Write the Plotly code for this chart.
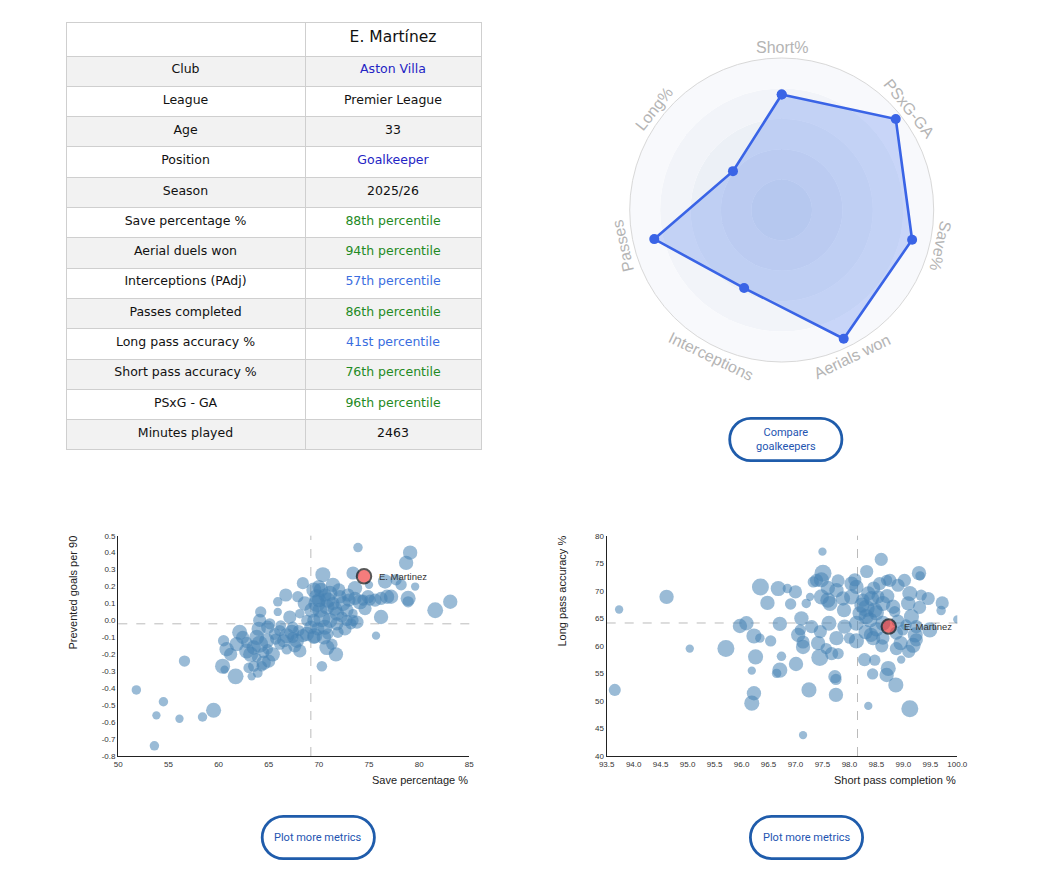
import math
import plotly.graph_objects as go

# ---- player profile ----
player = "E. Martínez"
club = "Aston Villa"
league = "Premier League"
age = 33
position = "Goalkeeper"
season = "2025/26"
minutes_played = 2463

metric_names = ["Save percentage %", "Aerial duels won", "Interceptions (PAdj)",
                "Passes completed", "Long pass accuracy %", "Short pass accuracy %", "PSxG - GA"]
metric_pct = [88, 94, 57, 86, 41, 76, 96]

# radar axes, clockwise from the top
radar_labels = ["Short%", "PSxG-GA", "Save%", "Aerials won", "Interceptions", "Passes", "Long%"]
radar_values = [76, 96, 88, 94, 57, 86, 41]

# ---- scatter 1: save % vs prevented goals per 90 ----
save_pct = [51.8, 54.5, 53.8, 53.6, 56.1, 58.4, 59.5, 56.6, 60.4, 60.6, 61.7, 60.5, 60.8, 62.1, 61.8,
            62.8, 63.0, 63.3, 63.5, 63.9, 64.5, 64.2, 64.1, 63.8, 64.1, 64.8, 64.9, 65.4, 65.6, 65.9,
            65.9, 66.7, 66.1, 66.8, 67.1, 67.3, 66.8, 67.9, 68.4, 67.8, 68.1, 68.8, 69.6, 69.3, 69.5,
            69.8, 70.4, 70.3, 70.8, 70.6, 71.1, 71.4, 70.3, 70.8, 71.3, 71.7, 71.9, 71.8, 72.4, 72.8,
            73.2, 73.4, 73.9, 73.6, 74.1, 74.6, 75.0, 75.7, 75.6, 76.2, 76.2, 76.6, 77.2, 77.7, 78.2,
            78.7, 79.1, 78.9, 78.9, 79.6, 81.6, 83.1, 69.8, 70.1, 69.5, 71.1, 71.4, 72.1, 73.0, 73.6,
            74.4, 75.1, 72.8, 69.5, 68.4, 67.4, 66.1, 65.1, 63.5, 62.8, 64.5, 64.9, 67.4, 68.8, 65.7,
            68.1, 71.8, 72.3, 73.4, 73.4, 63.8, 64.3, 70.0, 70.6, 69.9, 70.9, 68.0, 66.2,
            70.2, 70.9, 71.6, 70.5, 69.2, 72.6, 73.8, 72.0, 64.0, 63.2, 65.0, 66.5, 62.4, 67.6, 68.6,
            70.0, 74.9, 76.8, 72.9, 61.2]
prevented_p90 = [-0.41, -0.48, -0.56, -0.74, -0.58, -0.57, -0.53, -0.24, -0.27, -0.29, -0.33, -0.12, -0.17,
                 -0.07, -0.14, -0.18, -0.28, -0.33, -0.27, -0.31, -0.25, 0.05, 0.00, -0.10, -0.14, -0.12,
                 -0.04, -0.20, -0.08, 0.11, 0.05, 0.15, -0.14, -0.17, 0.02, -0.07, -0.09, 0.14, 0.22,
                 -0.12, -0.18, -0.08, -0.09, 0.06, 0.18, 0.10, 0.27, 0.01, 0.08, -0.04, 0.16, 0.21, -0.27,
                 -0.16, -0.14, -0.20, -0.07, 0.04, 0.10, 0.00, -0.02, 0.28, 0.43, 0.19, 0.11, 0.07, 0.21,
                 -0.09, 0.12, 0.13, 0.02, 0.23, 0.14, 0.24, 0.21, 0.34, 0.40, 0.13, 0.11, 0.20, 0.06, 0.11,
                 0.14, 0.06, 0.00, 0.00, 0.10, 0.14, 0.12, 0.13, 0.12, 0.12, 0.06, -0.10, -0.09, -0.10,
                 -0.06, -0.02, -0.16, -0.13, -0.19, -0.17, -0.04, 0.00, -0.11, 0.04, -0.02, 0.02, 0.04,
                 0.00, -0.22, -0.27, 0.12, 0.15, -0.05, -0.08, -0.06, -0.03,
                 0.18, 0.12, 0.07, -0.10, -0.04, -0.05, -0.01, 0.18, -0.05, -0.20, -0.24, -0.12, -0.10,
                 -0.15, 0.10, 0.20, 0.14, 0.14, 0.15, -0.20]
minutes_1 = [930, 930, 720, 930, 720, 930, 2370, 1330, 2370, 720, 2610, 1330, 2140, 2370, 2140,
             2370, 1160, 720, 1330, 1000, 2140, 1330, 1810, 2370, 3000, 2370, 1810, 2140, 1520, 930,
             720, 1810, 1330, 1160, 1810, 2370, 2370, 1330, 1520, 2140, 1810, 2140, 2370, 2370, 2370,
             3000, 2370, 3000, 2370, 2370, 2370, 2140, 1160, 2370, 1330, 2140, 1330, 2140, 2370, 1330,
             1330, 1810, 930, 2140, 2370, 1810, 720, 720, 1810, 1810, 2140, 2140, 2140, 1330, 1330,
             2140, 2140, 2370, 1330, 720, 2610, 2140, 2370, 2370, 1810, 2370, 1810, 1810, 1810, 1810,
             1330, 1330, 1810, 1810, 1810, 1330, 1330, 1330, 2140, 1330, 1330, 1160, 1330, 1330, 1330,
             930, 1810, 1330, 930, 1330, 930, 1160, 2140, 1810, 1810, 1330, 1330, 1160,
             2140, 2370, 2140, 2140, 1810, 1810, 1810, 1810, 2140, 2370, 1810, 1810, 1810, 1810, 2140,
             1810, 1810, 2140, 1810, 1810]
avg_save_pct = 69.2
avg_prevented = -0.02
player_save_pct = 74.5
player_prevented = 0.26

# ---- scatter 2: short pass completion vs long pass accuracy ----
short_pct = [93.65, 93.73, 94.61, 95.04, 95.71, 95.97, 96.09, 96.19, 96.23, 96.19, 96.26, 96.23, 96.34,
             96.35, 96.48, 96.54, 96.65, 96.71, 96.74, 96.68, 96.71, 96.85, 96.91, 97.01, 97.11, 97.09,
             97.05, 97.14, 97.14, 97.14, 97.20, 97.25, 97.27, 97.33, 97.39, 97.48, 97.51, 97.50, 97.42,
             97.45, 97.46, 97.48, 97.60, 97.64, 97.62, 97.57, 97.67, 97.73, 97.75, 97.75, 97.76, 97.79,
             97.76, 97.79, 97.88, 97.91, 98.00, 98.04, 98.04, 98.13, 98.13, 98.13, 98.23, 98.28, 98.31,
             98.32, 98.35, 98.38, 98.41, 98.44, 98.47, 98.43, 98.47, 98.56, 98.59, 98.62, 98.69, 98.72,
             98.69, 98.75, 98.81, 98.84, 98.86, 98.87, 98.90, 98.96, 99.02, 99.09, 99.12, 99.12, 99.15,
             99.18, 99.22, 99.24, 99.29, 99.31, 99.33, 99.49, 99.46, 99.72, 99.70, 100.0, 99.24, 98.99,
             98.31, 98.19, 98.62, 98.62, 98.53, 98.25, 98.87, 99.05, 98.50, 98.40,
             98.35, 98.50, 98.70, 98.30, 98.90, 98.60, 97.90, 97.30, 99.30, 98.10, 97.60, 98.95, 99.10,
             98.45, 97.00]
long_pct = [52.0, 66.6, 68.9, 59.5, 59.5, 63.6, 64.1, 55.5, 51.4, 49.6, 58.0, 61.8, 61.4, 70.7, 67.8,
            60.9, 55.0, 55.6, 58.1, 70.4, 64.0, 70.4, 67.6, 56.7, 65.0, 62.9, 62.0, 59.8, 60.7, 43.8,
            67.7, 52.0, 68.9, 71.6, 71.9, 72.0, 73.2, 77.1, 60.5, 57.9, 62.6, 68.9, 68.3, 67.7, 64.1,
            59.5, 58.6, 54.4, 53.9, 51.1, 70.1, 71.8, 61.4, 58.6, 68.6, 63.5, 61.4, 71.3, 68.9, 70.7,
            64.1, 60.9, 67.4, 57.5, 66.8, 73.5, 49.1, 64.7, 68.6, 61.4, 57.4, 54.9, 66.5, 71.3, 75.7,
            67.7, 71.9, 55.9, 54.7, 71.9, 67.1, 66.2, 52.9, 59.5, 71.0, 57.5, 71.9, 67.7, 69.5, 48.6,
            65.3, 60.1, 62.0, 63.5, 73.2, 72.7, 69.2, 62.9, 68.6, 67.8, 66.4, 64.8, 61.1, 62.9, 65.3,
            65.9, 64.1, 61.4, 68.9, 68.3, 62.3, 63.8, 63.0, 62.0,
            69.5, 66.0, 69.0, 62.5, 64.5, 60.0, 66.5, 63.5, 67.0, 72.0, 70.5, 60.5, 59.0, 70.5, 69.8]
minutes_2 = [1520, 720, 2140, 720, 3000, 2140, 2140, 720, 2140, 2370, 2370, 2370, 930, 3000, 2140,
             1330, 930, 2370, 930, 2370, 2140, 930, 1330, 2140, 2140, 1330, 2140, 2140, 1810, 720,
             930, 2370, 720, 1330, 1810, 2370, 3000, 720, 2140, 3000, 1810, 2370, 2370, 2370, 2370,
             1330, 1810, 1810, 1330, 2140, 2140, 1810, 2140, 1330, 2140, 2140, 1330, 2140, 2370, 2140,
             2370, 2370, 2370, 1810, 3000, 1810, 720, 2370, 2370, 2140, 1330, 1330, 2370, 1810, 1810,
             2370, 1330, 2370, 2140, 1810, 2140, 1330, 2370, 1810, 1810, 720, 1810, 2140, 2370, 3000,
             2370, 2370, 2370, 1810, 2140, 930, 1330, 2370, 1810, 1810, 930, 720, 1810, 1330, 2370,
             2140, 2370, 1810, 1810, 1810, 1810, 1330, 2140, 2140,
             2140, 2370, 2140, 2140, 1810, 1810, 2140, 1810, 1810, 1810, 2140, 2140, 1810, 1810, 1810]
avg_short = 98.15
avg_long = 64.15
player_short = 98.73
player_long = 63.5

# ---- page geometry helpers (pixels -> paper) ----
W, H, OFF = 1021, 854, 8


def px(x):
    return (x - OFF) / W


def py(y):
    return 1 - (y - OFF) / H


def ordinal(n):
    suf = "th" if 10 <= n % 100 <= 20 else {1: "st", 2: "nd", 3: "rd"}.get(n % 10, "th")
    return f"{n}{suf}"


def pct_color(p):
    if p >= 66:
        return "#1f8a24"
    if p >= 33:
        return "#3a6ee0"
    return "#d33"


def pill(cx, cy, w, h, lw):
    # rounded "pill" outline as a bezier path
    x0, x1 = cx - w / 2 + lw / 2, cx + w / 2 - lw / 2
    y0, y1 = cy - h / 2 + lw / 2, cy + h / 2 - lw / 2
    r = (y1 - y0) / 2
    k = 0.5523 * r
    pts = [("M", [(x0 + r, y0)]), ("L", [(x1 - r, y0)]),
           ("C", [(x1 - r + k, y0), (x1, cy - k), (x1, cy)]),
           ("C", [(x1, cy + k), (x1 - r + k, y1), (x1 - r, y1)]),
           ("L", [(x0 + r, y1)]),
           ("C", [(x0 + r - k, y1), (x0, cy + k), (x0, cy)]),
           ("C", [(x0, cy - k), (x0 + r - k, y0), (x0 + r, y0)])]
    s = ""
    for cmd, p in pts:
        s += cmd + " " + " ".join(f"{px(a):.5f},{py(b):.5f}" for a, b in p) + " "
    return s + "Z"


fig = go.Figure()

# ---- table ----
left_col = ["Club", "League", "Age", "Position", "Season"] + metric_names + ["Minutes played"]
right_col = [club, league, str(age), position, season] + [ordinal(p) + " percentile" for p in metric_pct] + [str(minutes_played)]
right_colors = ["#2424c4", "#111", "#111", "#2424c4", "#111"] + [pct_color(p) for p in metric_pct] + ["#111"]
row_fill = ["#f2f2f2" if i % 2 == 0 else "white" for i in range(len(left_col))]

fig.add_trace(go.Table(
    domain=dict(x=[px(66), px(481.5)], y=[py(452), py(22)]),
    columnwidth=[239, 176],
    header=dict(values=["", player], fill_color="white", line_color="#cfcfcf",
                font=dict(family="DejaVu Sans", size=15.5, color="#111"), height=34, align="center"),
    cells=dict(values=[left_col, right_col], fill_color=[row_fill, row_fill], line_color="#cfcfcf",
               font=dict(family="DejaVu Sans", size=12.5, color=[["#111"] * len(left_col), right_colors]),
               height=30.3, align="center"),
))

# ---- radar ----
cx, cy, R = 781.7, 210, 152
step = 360 / len(radar_labels)
angles = [i * step for i in range(len(radar_labels))]

fig.add_trace(go.Barpolar(
    r=[20] * 5, base=[0, 20, 40, 60, 80], theta=[0] * 5, width=[360] * 5,
    marker=dict(color=["#e0e6f0", "#e6ebf3", "#ecf0f6", "#f2f4f9", "#f8f9fc"], line_width=0),
    hoverinfo="skip", subplot="polar"))
fig.add_trace(go.Scatterpolar(
    r=radar_values + radar_values[:1], theta=angles + angles[:1], mode="lines+markers",
    fill="toself", fillcolor="rgba(70,120,235,0.27)",
    line=dict(color="#3a64e6", width=2.6), marker=dict(size=10, color="#3a64e6"),
    subplot="polar"))

annotations = []
for lab, a in zip(radar_labels, angles):
    rad = math.radians(a)
    lx = cx + 163 * math.sin(rad)
    ly = cy - 163 * math.cos(rad)
    rot = a - 180 if 120 < a < 240 else (a if a <= 180 else a - 360)
    annotations.append(dict(x=px(lx), y=py(ly), xref="paper", yref="paper", text=lab, showarrow=False,
                            textangle=rot, xanchor="center", yanchor="middle",
                            font=dict(family="Liberation Sans", size=16, color="#b4b4b4")))

# ---- scatters ----
size_ref = 2 * 3000 / 17 ** 2
bubble = dict(color="rgba(70,130,180,0.78)", sizemode="area", sizeref=size_ref, line_width=0)
fig.add_trace(go.Scatter(x=save_pct, y=prevented_p90, mode="markers",
                         marker=dict(size=minutes_1, **bubble), xaxis="x", yaxis="y"))
fig.add_trace(go.Scatter(x=[player_save_pct], y=[player_prevented], mode="markers",
                         marker=dict(size=[minutes_played], sizemode="area", sizeref=2 * 3000 / 16 ** 2,
                                     color="#f24646", line=dict(color="#111", width=2)),
                         xaxis="x", yaxis="y"))
fig.add_trace(go.Scatter(x=short_pct, y=long_pct, mode="markers",
                         marker=dict(size=minutes_2, **bubble), xaxis="x2", yaxis="y2"))
fig.add_trace(go.Scatter(x=[player_short], y=[player_long], mode="markers",
                         marker=dict(size=[minutes_played], sizemode="area", sizeref=2 * 3000 / 16 ** 2,
                                     color="#e83a3a", line=dict(color="#111", width=2)),
                         xaxis="x2", yaxis="y2"))

tick_font = dict(family="Liberation Sans", size=8, color="#333")
ax_common = dict(showline=True, linecolor="#222", linewidth=1.4, showgrid=False, zeroline=False,
                 ticks="", tickfont=tick_font, fixedrange=True, automargin=False)

y1_ticks = [round(-0.8 + 0.1 * i, 1) for i in range(14)]
x2_ticks = [round(93.5 + 0.5 * i, 1) for i in range(14)]

shapes = []
for xr, yr, vx, hy in [("x", "y", avg_save_pct, avg_prevented), ("x2", "y2", avg_short, avg_long)]:
    shapes.append(dict(type="line", xref=xr, yref=yr + " domain", x0=vx, x1=vx, y0=0, y1=1,
                       line=dict(color="#bbb", width=1, dash="dash"), layer="below"))
    shapes.append(dict(type="line", xref=xr + " domain", yref=yr, x0=0, x1=1, y0=hy, y1=hy,
                       line=dict(color="#bbb", width=1, dash="dash"), layer="below"))

label_font = dict(family="Liberation Sans", size=9.5, color="#333")
for xr, yr, vx, vy in [("x", "y", player_save_pct, player_prevented), ("x2", "y2", player_short, player_long)]:
    annotations.append(dict(x=vx, y=vy, xref=xr, yref=yr, text="E. Martinez", showarrow=False,
                            xanchor="left", yanchor="middle", xshift=13, font=label_font))

title_font = dict(family="Liberation Sans", size=11, color="#222")
annotations += [
    dict(x=px(72.5), y=py(593), text="Prevented goals per 90", textangle=-90,
         xanchor="center", yanchor="middle"),
    dict(x=px(469.5), y=py(780), text="Save percentage %", xanchor="right", yanchor="middle"),
    dict(x=px(561), y=py(591.5), text="Long pass accuracy %", textangle=-90,
         xanchor="center", yanchor="middle"),
    dict(x=px(957.5), y=py(780), text="Short pass completion %", xanchor="right", yanchor="middle"),
]
for a in annotations[-4:]:
    a.update(xref="paper", yref="paper", showarrow=False, font=title_font)

# ---- buttons ----
btn_font = dict(family="Roboto", size=11, color="#2354b1")
for bx, by, txt in [(785.8, 439.5, "Compare<br>goalkeepers"), (318.3, 837.5, "Plot more metrics"),
                    (806.5, 837.5, "Plot more metrics")]:
    shapes.append(dict(type="path", xref="paper", yref="paper", path=pill(bx, by, 115, 45, 2.8),
                       line=dict(color="#1f5cab", width=2.8), fillcolor="white"))
    annotations.append(dict(x=px(bx), y=py(by), xref="paper", yref="paper", text=txt, showarrow=False,
                            xanchor="center", yanchor="middle", font=btn_font, align="center"))

fig.update_layout(
    width=W, height=H, margin=dict(l=0, r=0, t=0, b=0, autoexpand=False),
    paper_bgcolor="white", plot_bgcolor="white", showlegend=False,
    polar=dict(
        domain=dict(x=[px(cx - R), px(cx + R)], y=[py(cy + R), py(cy - R)]),
        bgcolor="rgba(0,0,0,0)",
        radialaxis=dict(range=[0, 100], showgrid=False, showline=False, showticklabels=False, ticks=""),
        angularaxis=dict(rotation=90, direction="clockwise", tickvals=angles, showticklabels=False,
                         ticks="", gridcolor="#dde0e6", linecolor="#d8d8d8", linewidth=1),
    ),
    xaxis=dict(domain=[px(118.3), px(469.3)], range=[50, 85], anchor="y",
               tickvals=list(range(50, 90, 5)), **ax_common),
    yaxis=dict(domain=[py(756), py(535.7)], range=[-0.8, 0.5], anchor="x",
               tickvals=y1_ticks, ticktext=[f"{v:.1f}" for v in y1_ticks], **ax_common),
    xaxis2=dict(domain=[px(606.7), px(957.3)], range=[93.5, 100], anchor="y2",
                tickvals=x2_ticks, ticktext=[f"{v:.1f}" for v in x2_ticks], **ax_common),
    yaxis2=dict(domain=[py(756), py(535.7)], range=[40, 80], anchor="x2",
                tickvals=list(range(40, 85, 5)), **ax_common),
    shapes=shapes, annotations=annotations,
)

fig.write_html("out.html")
